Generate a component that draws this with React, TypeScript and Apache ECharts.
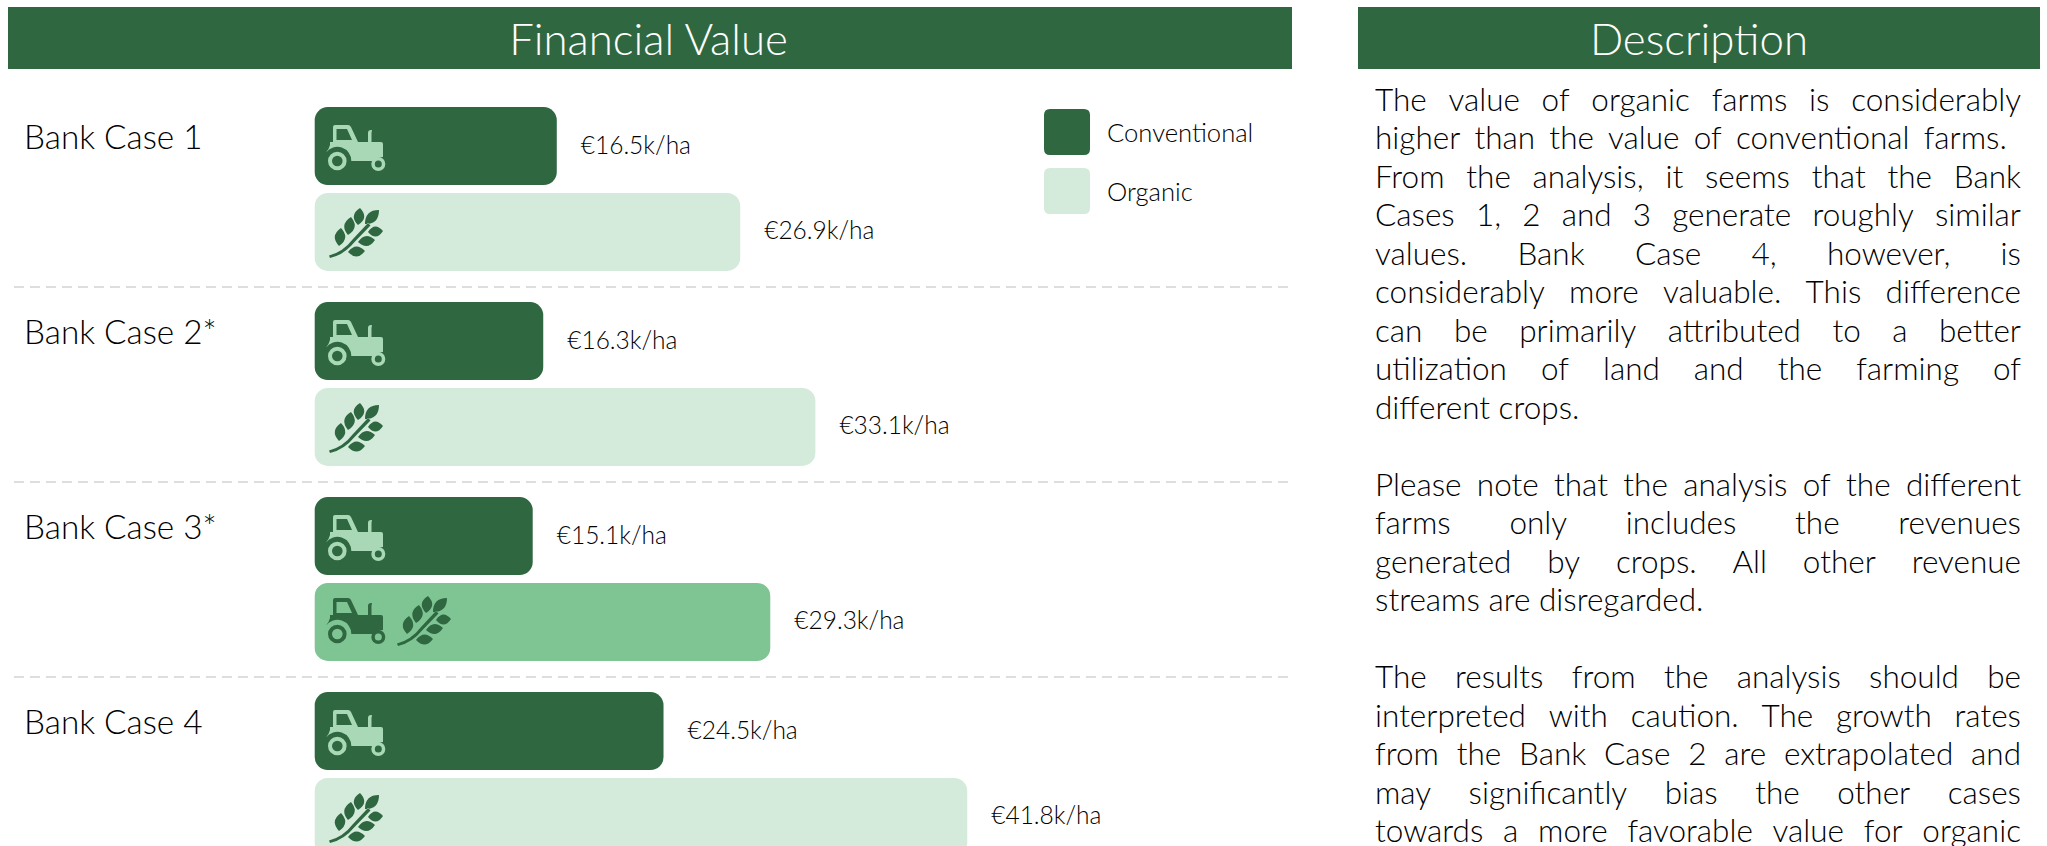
import React, { useEffect, useRef } from "react";
import * as echarts from "echarts";

const categories = ["Bank Case 1", "Bank Case 2*", "Bank Case 3*", "Bank Case 4"];
// Bar lengths as drawn in the picture (the source bars are not exactly to scale with their labels).
const conventionalBars = [16.1, 15.2, 14.5, 23.2];
const organicBars = [28.3, 33.3, 30.3, 43.4];
const conventionalLabels = ["€16.5k/ha", "€16.3k/ha", "€15.1k/ha", "€24.5k/ha"];
const organicLabels = ["€26.9k/ha", "€33.1k/ha", "€29.3k/ha", "€41.8k/ha"];

const paragraphs = [
  "The value of organic farms is considerably",
  "higher than the value of conventional farms. ",
  "From the analysis, it seems that the Bank",
  "Cases 1, 2 and 3 generate roughly similar",
  "values. Bank Case 4, however, is",
  "considerably more valuable. This difference",
  "can be primarily attributed to a better",
  "utilization of land and the farming of",
  "different crops.|",
  "",
  "Please note that the analysis of the different",
  "farms only includes the revenues",
  "generated by crops. All other revenue",
  "streams are disregarded.|",
  "",
  "The results from the analysis should be",
  "interpreted with caution. The growth rates",
  "from the Bank Case 2 are extrapolated and",
  "may significantly bias the other cases",
  "towards a more favorable value for organic",
];

const DARK = "#2F6840";
const LIGHT = "#D4EBDC";
const MID = "#7FC594";
const ICON_LIGHT = "#A8D8B5";
const FONT = "Lato";

const tractorPath =
  "M8 2 Q8 0 10 0 L23 0 Q25 0 26 2 L33 17 L43 17 L43 8 Q43 5 46 5 L47 5 L46.5 8 L46.5 17 L56 17 Q58 17 58 19 L58 32 Q52 32 48 36 L26.3 36 A14 14 0 0 0 1 27.5 Q4 24 5 20 L5 17 L8 17 Z " +
  "M11.5 4 L11.5 15 L27 15 L22 4 Z " +
  "M3 36 A9.3 9.3 0 1 1 21.6 36 A9.3 9.3 0 1 1 3 36 Z M7 36 A5.3 5.3 0 1 0 17.6 36 A5.3 5.3 0 1 0 7 36 Z " +
  "M46.3 39 A7 7 0 1 1 60.3 39 A7 7 0 1 1 46.3 39 Z M49.8 39 A3.5 3.5 0 1 0 56.8 39 A3.5 3.5 0 1 0 49.8 39 Z";

function leaf(x0: number, y0: number, x1: number, y1: number, w: number) {
  const mx = (x0 + x1) / 2, my = (y0 + y1) / 2;
  const dx = x1 - x0, dy = y1 - y0;
  const len = Math.hypot(dx, dy);
  const nx = (-dy / len) * w, ny = (dx / len) * w;
  const f = (v: number) => v.toFixed(2);
  return `M${f(x0)} ${f(y0)} Q${f(mx + nx)} ${f(my + ny)} ${f(x1)} ${f(y1)} Q${f(mx - nx)} ${f(my - ny)} ${f(x0)} ${f(y0)} Z `;
}
const wheatPath =
  "M0 47.5 Q14 44 24 31 L39 15 L41.5 17.5 L26 33.5 Q15 47 1 50 Z " +
  leaf(29, 17, 31, 0, 10.5) + leaf(19, 27, 22, 9, 10.5) + leaf(10, 38, 12, 20, 10.5) +
  leaf(36, 16, 50, 2, 10) + leaf(39, 24, 54, 23, 10) + leaf(29, 34, 46, 32, 10) + leaf(19, 44, 36, 43, 10);

const legendIcon =
  "path://M6 0 L40 0 Q46 0 46 6 L46 40 Q46 46 40 46 L6 46 Q0 46 0 40 L0 6 Q0 0 6 0 Z";

echarts.graphic.registerShape("tractor", echarts.graphic.extendPath(tractorPath, {}) as any);
echarts.graphic.registerShape("wheat", echarts.graphic.extendPath(wheatPath, {}) as any);

const ROW0 = 189, PITCH = 195, OFFSET = 43;

function icons() {
  const out: any[] = [];
  categories.forEach((_, i) => {
    const c = ROW0 + PITCH * i;
    const both = i === 2;
    out.push({ type: "tractor", x: 325, y: c - OFFSET - 21, z: 10, style: { fill: ICON_LIGHT } });
    if (both) {
      out.push({ type: "tractor", x: 325, y: c + OFFSET - 24, z: 10, style: { fill: DARK } });
      out.push({ type: "wheat", x: 397, y: c + OFFSET - 26, z: 10, style: { fill: DARK } });
    } else {
      out.push({ type: "wheat", x: 329, y: c + OFFSET - 24, z: 10, style: { fill: DARK } });
    }
  });
  return out;
}

function description() {
  const L = 1375, R = 2021, SIZE = 31.5, TOP = 98.5, LEAD = 38.5;
  const font = `300 ${SIZE}px ${FONT}`;
  const ctx = document.createElement("canvas").getContext("2d")!;
  ctx.font = font;
  const out: any[] = [];
  paragraphs.forEach((raw, i) => {
    if (!raw) return;
    const natural = raw.endsWith("|");
    const line = natural ? raw.slice(0, -1) : raw;
    const words = line.trim().split(" ");
    const space = ctx.measureText(" ").width;
    const total = words.reduce((s, w) => s + ctx.measureText(w).width, 0);
    const gaps = line.split(" ").length - 1;
    const gap = natural || gaps === 0 ? space : (R - L - total) / gaps;
    let x = L;
    words.forEach((w) => {
      out.push({
        type: "text", x, y: TOP + LEAD * i, z: 10,
        style: { text: w, fill: "#000", font, textAlign: "left", textVerticalAlign: "middle" },
      });
      x += ctx.measureText(w).width + gap;
    });
  });
  return out;
}

export default function App() {
  const ref = useRef<HTMLDivElement>(null);
  useEffect(() => {
    document.body.style.margin = "0";
    document.body.style.overflow = "hidden";
    const chart = echarts.init(ref.current!, undefined, { renderer: "svg" });
    const labelStyle = { show: true, position: "right" as const, distance: 24, offset: [0, -2], fontFamily: FONT, fontWeight: 300, fontSize: 24.5, color: "#000" };
    chart.setOption({
      animation: false,
      backgroundColor: "#fff",
      legend: {
        orient: "vertical", left: 1044, top: 109, itemWidth: 46, itemHeight: 46, itemGap: 13, padding: 0,
        selectedMode: false, icon: legendIcon,
        textStyle: { fontFamily: FONT, fontWeight: 300, fontSize: 25.6, color: "#000", padding: [0, 0, 9, 12] },
        data: ["Conventional", "Organic"],
      },
      grid: { left: 14, width: 1278, top: 91.5, height: 780, containLabel: false, outerBoundsMode: "none" },
      xAxis: { type: "value", min: -20, max: 65, show: false },
      yAxis: {
        type: "category", inverse: true, data: categories,
        axisLine: { show: false }, axisTick: { show: false },
        axisLabel: {
          inside: true, margin: 10, align: "left", fontFamily: FONT, fontWeight: 300, fontSize: 33.3, color: "#000",
          verticalAlign: "bottom", lineHeight: 106,
        },
        splitLine: {
          show: true, showMinLine: false, showMaxLine: false,
          lineStyle: { color: "#DEDEDE", width: 2, type: [10, 6] },
        },
      },
      series: [
        {
          type: "bar", name: "Conventional", barWidth: 78, barGap: "10%",
          itemStyle: { color: DARK, borderRadius: 13 },
          label: { ...labelStyle, formatter: (p: any) => conventionalLabels[p.dataIndex] },
          data: conventionalBars,
        },
        {
          type: "bar", name: "Organic", barWidth: 78,
          itemStyle: { color: LIGHT, borderRadius: 13 },
          label: { ...labelStyle, formatter: (p: any) => organicLabels[p.dataIndex] },
          data: organicBars.map((v, i) => (i === 2 ? { value: v, itemStyle: { color: MID } } : v)),
        },
      ],
      graphic: [
        { type: "rect", shape: { x: 8, y: 7, width: 1284, height: 62 }, style: { fill: DARK } },
        { type: "rect", shape: { x: 1358, y: 7, width: 682, height: 62 }, style: { fill: DARK } },
        { type: "text", x: 648.5, y: 38, z: 10, style: { text: "Financial Value", fill: "#fff", font: `300 43.8px ${FONT}`, textAlign: "center", textVerticalAlign: "middle" } },
        { type: "text", x: 1699, y: 38, z: 10, style: { text: "Description", fill: "#fff", font: `300 43.8px ${FONT}`, textAlign: "center", textVerticalAlign: "middle" } },
        ...icons(),
        ...description(),
      ],
    });
    return () => chart.dispose();
  }, []);
  return <div ref={ref} style={{ width: 2047, height: 846 }} />;
}
